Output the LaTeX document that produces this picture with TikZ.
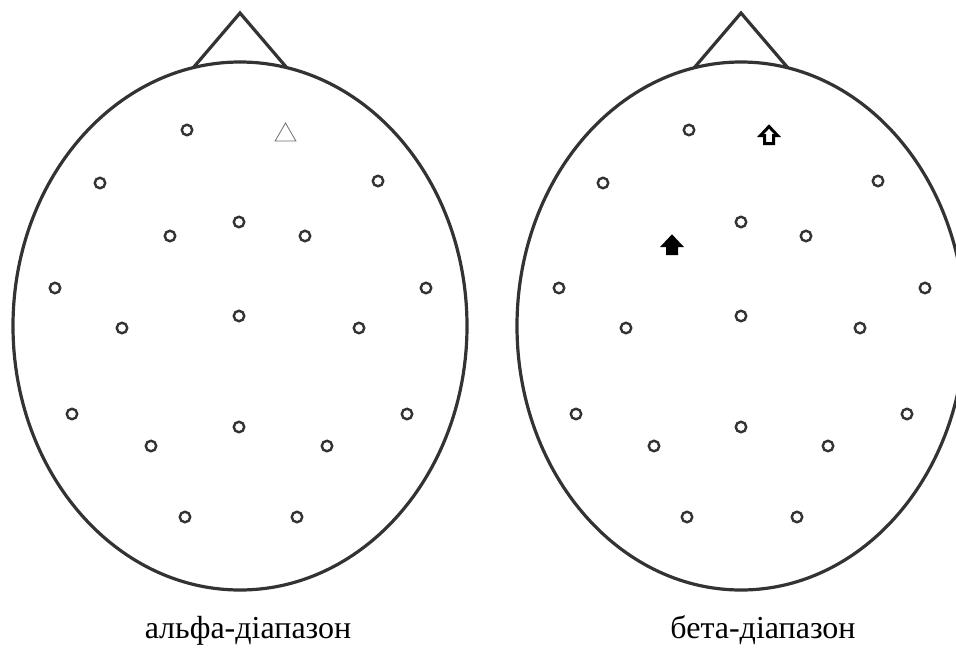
\documentclass[tikz,border=0pt]{standalone}
\usepackage{fontspec}
\setmainfont{Liberation Serif}
\usepackage{tikz}
\usetikzlibrary{shapes.geometric}
\definecolor{darkGray}{RGB}{51, 51, 51}
\definecolor{midGray}{RGB}{110, 110, 110}

\tikzset{
    uparrow/.pic={
        \path[pic actions, line width=3pt, line join=miter]
            (0,-8.5) -- (8.5,0.5) -- (4.5,0.5) -- (4.5,8.5) -- (-4.5,8.5) -- (-4.5,0.5) -- (-8.5,0.5) -- cycle;
    }
}

\begin{document}
\begin{tikzpicture}[
    x=1pt, y=-1pt,
    head/.style={draw=darkGray, line width=3.2pt},
    electrode/.style={circle, draw=darkGray, line width=2.4pt, minimum size=10.5pt, inner sep=0pt},
    marker/.style={regular polygon, regular polygon sides=3, draw=midGray, line width=0.8pt, minimum size=24pt, inner sep=0pt},
    lbl/.style={anchor=base, font=\fontsize{32}{36}\selectfont}
]
    \clip (0,0) rectangle (956,648);

    % Heads
    \draw[head] (240,326) ellipse [x radius=227, y radius=264];
    \draw[head, line join=miter] (193,68) -- (240,13) -- (287,68);
    \draw[head] (741,326) ellipse [x radius=224, y radius=264];
    \draw[head, line join=miter] (694,68) -- (741,13) -- (788,68);

    % Electrodes, alpha band
    \foreach \x/\y [count=\i] in {187/130, 100/183, 378/181, 239/222, 170/236, 305/236,
        55/288, 426/288, 122/328, 239/316, 359/328, 72/414, 407/414,
        151/446, 239/427, 327/446, 185/517, 297/517}
        \node[electrode] (a\i) at (\x,\y) {};
    \node[marker] (atri) at (285.5,135) {};

    % Electrodes, beta band
    \foreach \x/\y [count=\i] in {689/130, 603/183, 878/181, 741/222, 806/236,
        559/288, 925/288, 626/328, 741/316, 860/328, 576/414, 907/414,
        654/446, 741/427, 828/446, 687/517, 797/517}
        \node[electrode] (b\i) at (\x,\y) {};
    \pic[draw=black, fill=white] at (769,135) {uparrow};
    \pic[draw=black, fill=black] at (672,245) {uparrow};

    % Labels
    \node[lbl] (alpha) at (248,638) {альфа-діапазон};
    \node[lbl] (beta) at (763,638) {бета-діапазон};
\end{tikzpicture}
\end{document}
